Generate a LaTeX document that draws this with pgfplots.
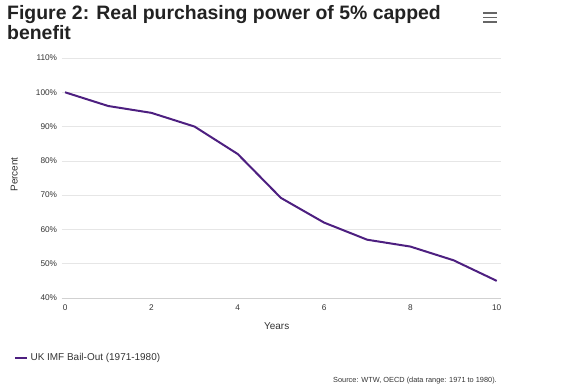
\documentclass[border=0pt]{standalone}
\usepackage{fontspec}
\setmainfont{Liberation Sans}
\usepackage{pgfplots}
\pgfplotsset{compat=1.18}
\definecolor{linepurple}{HTML}{4D1F80}
\definecolor{txt}{HTML}{333333}
\definecolor{ttl}{HTML}{222222}
\definecolor{gridc}{HTML}{E6E6E6}
\begin{document}
\begin{tikzpicture}
\path[use as bounding box] (0bp,0bp) rectangle (564bp,385bp);
\node[anchor=base west, font=\fontsize{19.5}{21}\selectfont\bfseries, text=ttl, inner sep=0] at (7bp,365bp) {Figure 2: Real purchasing power of 5\% capped};
\node[anchor=base west, font=\fontsize{19.5}{21}\selectfont\bfseries, text=ttl, inner sep=0] at (7bp,345bp) {benefit};
% hamburger icon
\foreach \yy in {363,367.5,372} {\draw[line width=1.8bp, color=gray!80!black] (483bp,\yy bp) -- (497bp,\yy bp);}
\begin{axis}[
  at={(61.6bp,87bp)}, anchor=south west,
  width=439bp, height=240bp, scale only axis,
  xmin=-0.08, xmax=10.09, ymin=40, ymax=110,
  xtick={0,2,4,6,8,10},
  ytick={40,50,60,70,80,90,100,110},
  yticklabel={\pgfmathprintnumber{\tick}\%},
  /pgf/number format/assume math mode=true,
  ymajorgrids, grid style={gridc, line width=0.6bp},
  axis lines*=left,
  y axis line style={draw=none},
  x axis line style={color=gridc!80!gray, line width=0.7bp, -},
  major tick length=0bp,
  tick style={draw=none},
  tick label style={font=\fontsize{8.3}{9}\selectfont, text=txt},
  xticklabel style={yshift=-3bp},
  yticklabel style={xshift=-1bp},
  xlabel={Years}, ylabel={Percent},
  label style={font=\fontsize{10}{12}\selectfont, text=txt},
  xlabel style={at={(axis description cs:0.49,-0.133)}, anchor=base},
  ylabel style={at={(axis description cs:-0.1,0.515)}, anchor=base},
  legend style={at={(axis description cs:-0.108,-0.25)}, anchor=west, draw=none, fill=none,
    font=\fontsize{10}{11}\selectfont, text=txt, inner sep=0pt,
    legend cell align=left},
  legend image code/.code={\draw[#1, line width=2.2bp] (0bp,0bp) -- (12bp,0bp);},
  clip=false
]
\addplot[linepurple, line width=2bp] coordinates {
(0,100) (1,96) (2,94) (3,90) (4,82) (5,69.2) (6,62) (7,57) (8,55) (9,51) (10,45)
};
\addlegendentry{UK IMF Bail-Out (1971-1980)}
\end{axis}
\node[anchor=base east, font=\fontsize{7.4}{8}\selectfont, text=txt, inner sep=0] at (497bp,3bp) {Source: WTW, OECD (data range: 1971 to 1980).};
\end{tikzpicture}
\end{document}
